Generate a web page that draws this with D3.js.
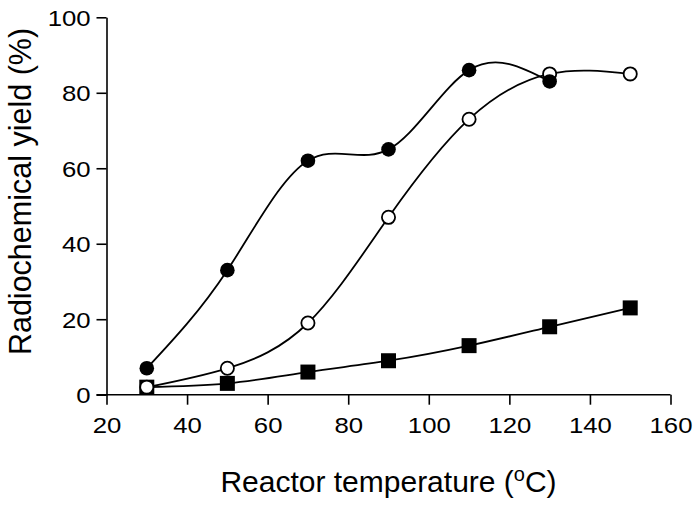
<!DOCTYPE html>
<html><head><meta charset="utf-8">
<script src="https://cdn.jsdelivr.net/npm/d3@7"></script>
<style>body{margin:0;background:#fff}svg{display:block;font-family:"Liberation Sans",Arial,sans-serif}</style>
</head><body><svg id="c" width="700" height="506"></svg>
<script>
const temps = [30, 50, 70, 90, 110, 130, 150];
const filledCircles = [7, 33, 62, 65, 86, 83];          // 30..130
const openCircles = [2, 7, 19, 47, 73, 85, 85];         // 30..150
const filledSquares = [2, 3, 6, 9, 13, 18, 23];         // 30..150
const xTicks = [20, 40, 60, 80, 100, 120, 140, 160];
const yTicks = [0, 20, 40, 60, 80, 100];

const svg = d3.select("#c");
const x = d3.scaleLinear().domain([20, 160]).range([106.5, 670.5]);
const y = d3.scaleLinear().domain([0, 100]).range([394.7, 17.3]);
const SX = 1.17;

// axes
const xa = svg.append("g").attr("transform", `translate(0,${y(0)})`)
  .call(d3.axisBottom(x).tickValues(xTicks).tickSize(10).tickPadding(12.5).tickSizeOuter(0));
const ya = svg.append("g").attr("transform", `translate(${x(20)},0)`)
  .call(d3.axisLeft(y).tickValues(yTicks).tickSize(10).tickPadding(3.6).tickSizeOuter(0));
[xa, ya].forEach(g => {
  g.select(".domain").attr("stroke", "#000").attr("stroke-width", 1.6);
  g.selectAll(".tick line").attr("stroke", "#000").attr("stroke-width", 1.6);
  g.selectAll(".tick text").attr("fill", "#000").style("font-size", "22px")
    .style("font-family", '"Liberation Sans",Arial,sans-serif')
    .attr("transform", `scale(${SX},1)`);
});
xa.select(".domain").attr("d", `M${x(20) - 10},0H${x(160)}`);
ya.selectAll(".tick text").attr("dy", "0.36em");

// lines
const line = d3.line().curve(d3.curveNatural).x(d => x(d[0])).y(d => y(d[1]));
const sq = temps.map((t, i) => [t, filledSquares[i]]);
const oc = temps.map((t, i) => [t, openCircles[i]]);
const fc = filledCircles.map((v, i) => [temps[i], v]);
[sq, oc, fc].forEach(data => {
  svg.append("path").datum(data).attr("d", line).attr("fill", "none")
    .attr("stroke", "#000").attr("stroke-width", 1.8);
});

// markers
svg.append("g").selectAll("rect").data(sq).join("rect")
  .attr("x", d => x(d[0]) - 7.5).attr("y", d => y(d[1]) - 7.5)
  .attr("width", 15).attr("height", 15).attr("fill", "#000");
svg.append("g").selectAll("circle").data(oc).join("circle")
  .attr("cx", d => x(d[0])).attr("cy", d => y(d[1])).attr("r", 6.6)
  .attr("fill", "#fff").attr("stroke", "#000").attr("stroke-width", 1.8);
svg.append("g").selectAll("circle").data(fc).join("circle")
  .attr("cx", d => x(d[0])).attr("cy", d => y(d[1])).attr("r", 7.3)
  .attr("fill", "#000");

// titles
const xt = svg.append("text").attr("x", (x(20) + x(160)) / 2).attr("y", 491.5)
  .attr("text-anchor", "middle").style("font-size", "30px").attr("fill", "#000");
xt.append("tspan").text("Reactor temperature (");
xt.append("tspan").text("o").style("font-size", "20px").attr("dy", -11);
xt.append("tspan").text("C)").attr("dy", 11);

svg.append("text").attr("transform", "translate(31,191.5) rotate(-90)")
  .attr("text-anchor", "middle").style("font-size", "30.5px").attr("fill", "#000")
  .text("Radiochemical yield (%)");
</script></body></html>
